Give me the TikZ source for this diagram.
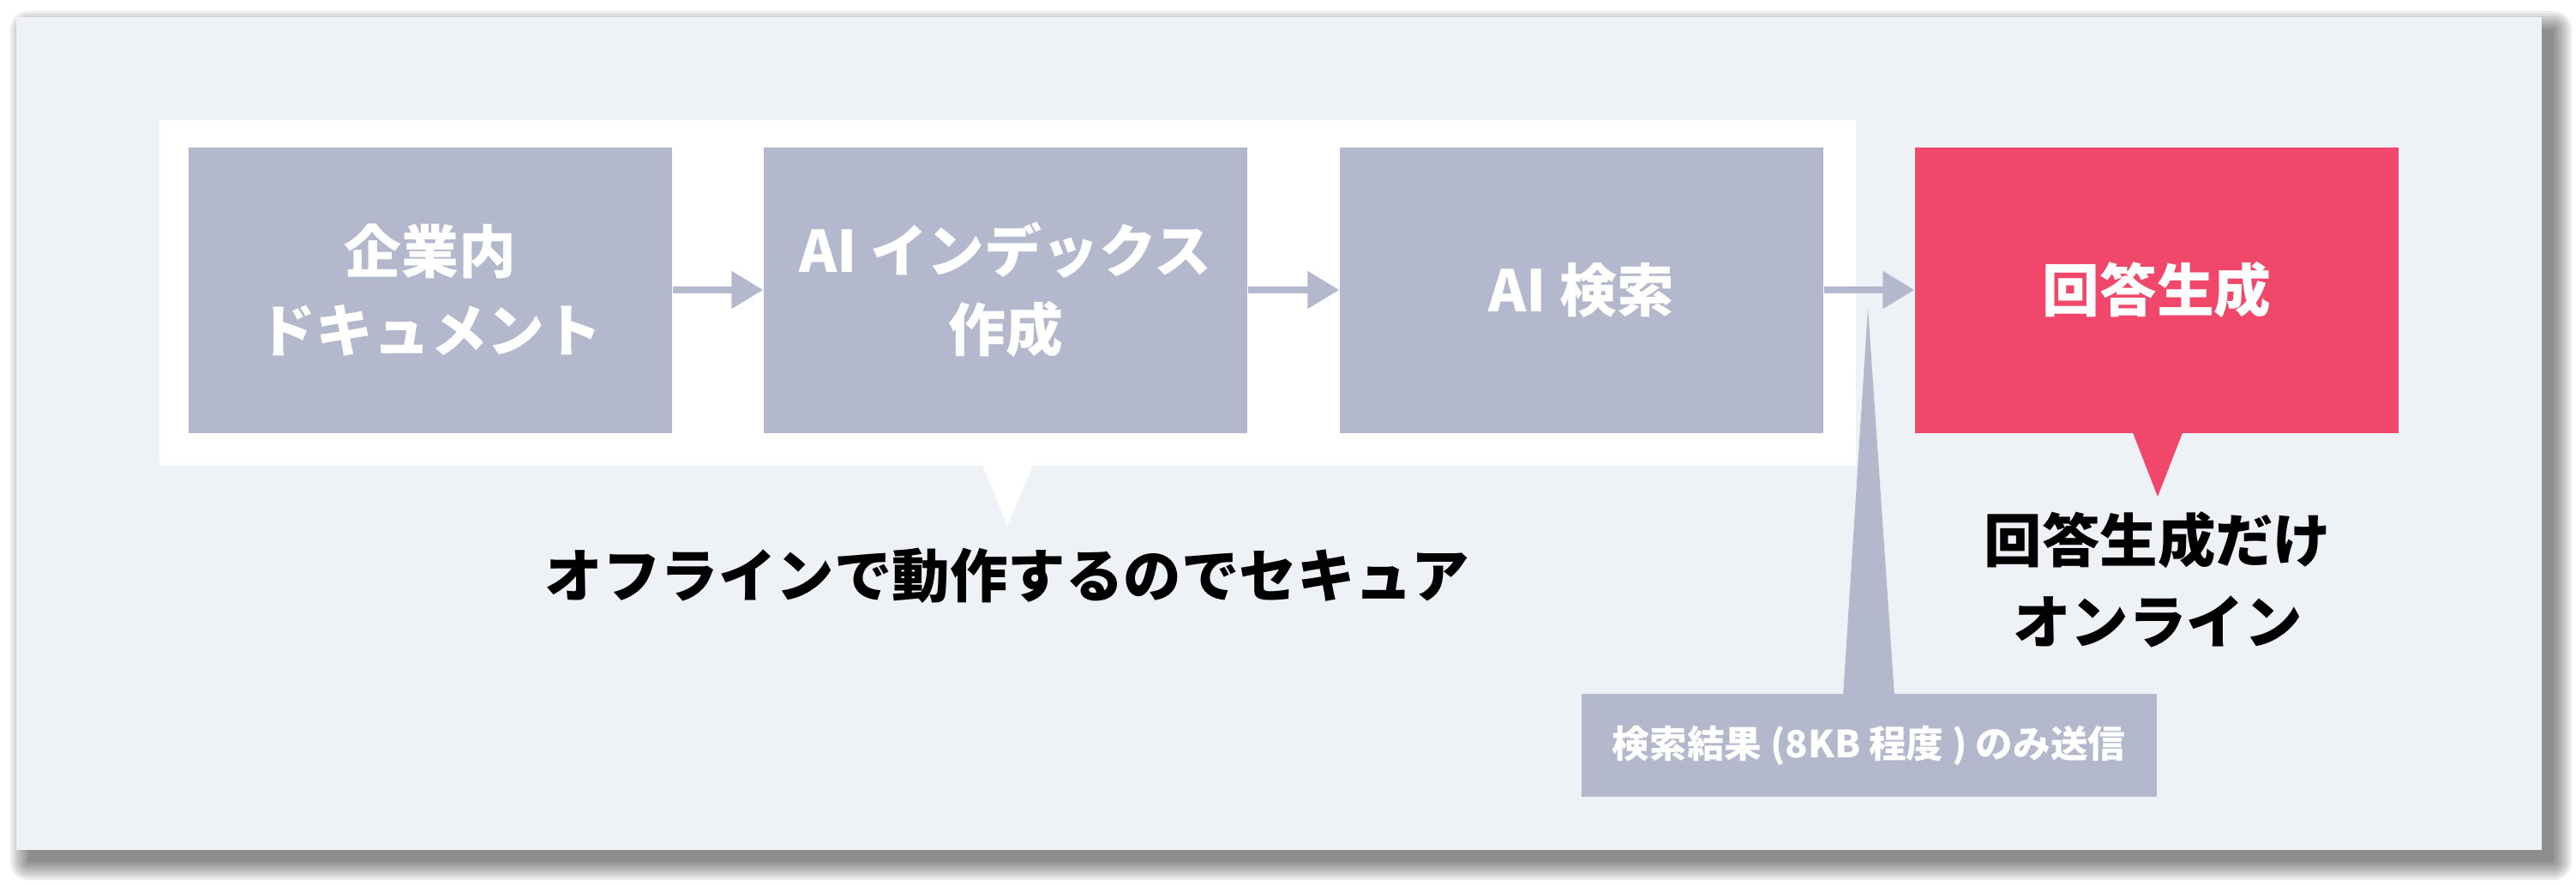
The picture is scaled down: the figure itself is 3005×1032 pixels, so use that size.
\documentclass[tikz,border=0pt]{standalone}
\usepackage{fontspec}
\setmainfont{Noto Sans CJK JP}
\usetikzlibrary{arrows.meta}
\definecolor{panelbg}{HTML}{EEF1F5}
\definecolor{stepgray}{HTML}{B4B8CC}
\definecolor{answerred}{HTML}{F1476A}
\newcommand{\StepBox}[3][]{\node[stepbox, #1] (#2) {#3};}

\begin{document}
\begin{tikzpicture}[x=0.1mm, y=-0.1mm,
	stepbox/.style={rectangle, fill=stepgray, minimum width=56.4mm, minimum height=33.3mm, inner sep=0pt, text=white, align=center, font=\bfseries\fontsize{19}{26}\selectfont},
	flow/.style={draw=stepgray, line width=0.8mm, -{Triangle[length=3.7mm, width=4.2mm]}},
	note/.style={text=black, align=center, font=\bfseries\fontsize{19.2}{27}\selectfont}]
\useasboundingbox (0,0) rectangle (3005,1032);
% soft shadow
\foreach \r in {0,3,...,21}
	\fill[black, opacity=0.07, rounded corners=\r*0.1mm] (33-\r,34-\r) rectangle (2979+\r,1005+\r);
\fill[panelbg] (19,20) rectangle (2965,991);

	% offline part
	\node[fill=white, minimum width=197.9mm, minimum height=40.3mm, inner sep=0pt] (offline) at (1175.5,341.5) {};
	\fill[white] (1145,540) -- (1206,540) -- (1175,613);

	\StepBox[at={(502,338)}]{docs}{企業内\\ドキュメント}
	\StepBox[at={(1173,338)}]{index}{AI インデックス\\作成}
	\StepBox[at={(1845,338)}]{search}{AI 検索}
	\StepBox[at={(2516,338)}, fill=answerred]{answer}{回答生成}
	\fill[answerred] (2487,502) -- (2547,502) -- (2517,579);

	\draw[flow] (docs) -- (index);
	\draw[flow] (index) -- (search);
	\draw[flow] (search) -- (answer);

	\node[note] (secure) at (1175,671) {オフラインで動作するのでセキュア};
	\node[note] (online) at (2517,676) {回答生成だけ\\オンライン};

	% what is sent
	\node[fill=stepgray, minimum width=67.1mm, minimum height=12mm, inner sep=0pt, text=white, font=\bfseries\fontsize{12.4}{16}\selectfont] (sent) at (2180,869) {検索結果 (8KB 程度 ) のみ送信};
	\fill[stepgray] (2150,812) -- (2179,359) -- (2210,812);

\end{tikzpicture}
\end{document}
